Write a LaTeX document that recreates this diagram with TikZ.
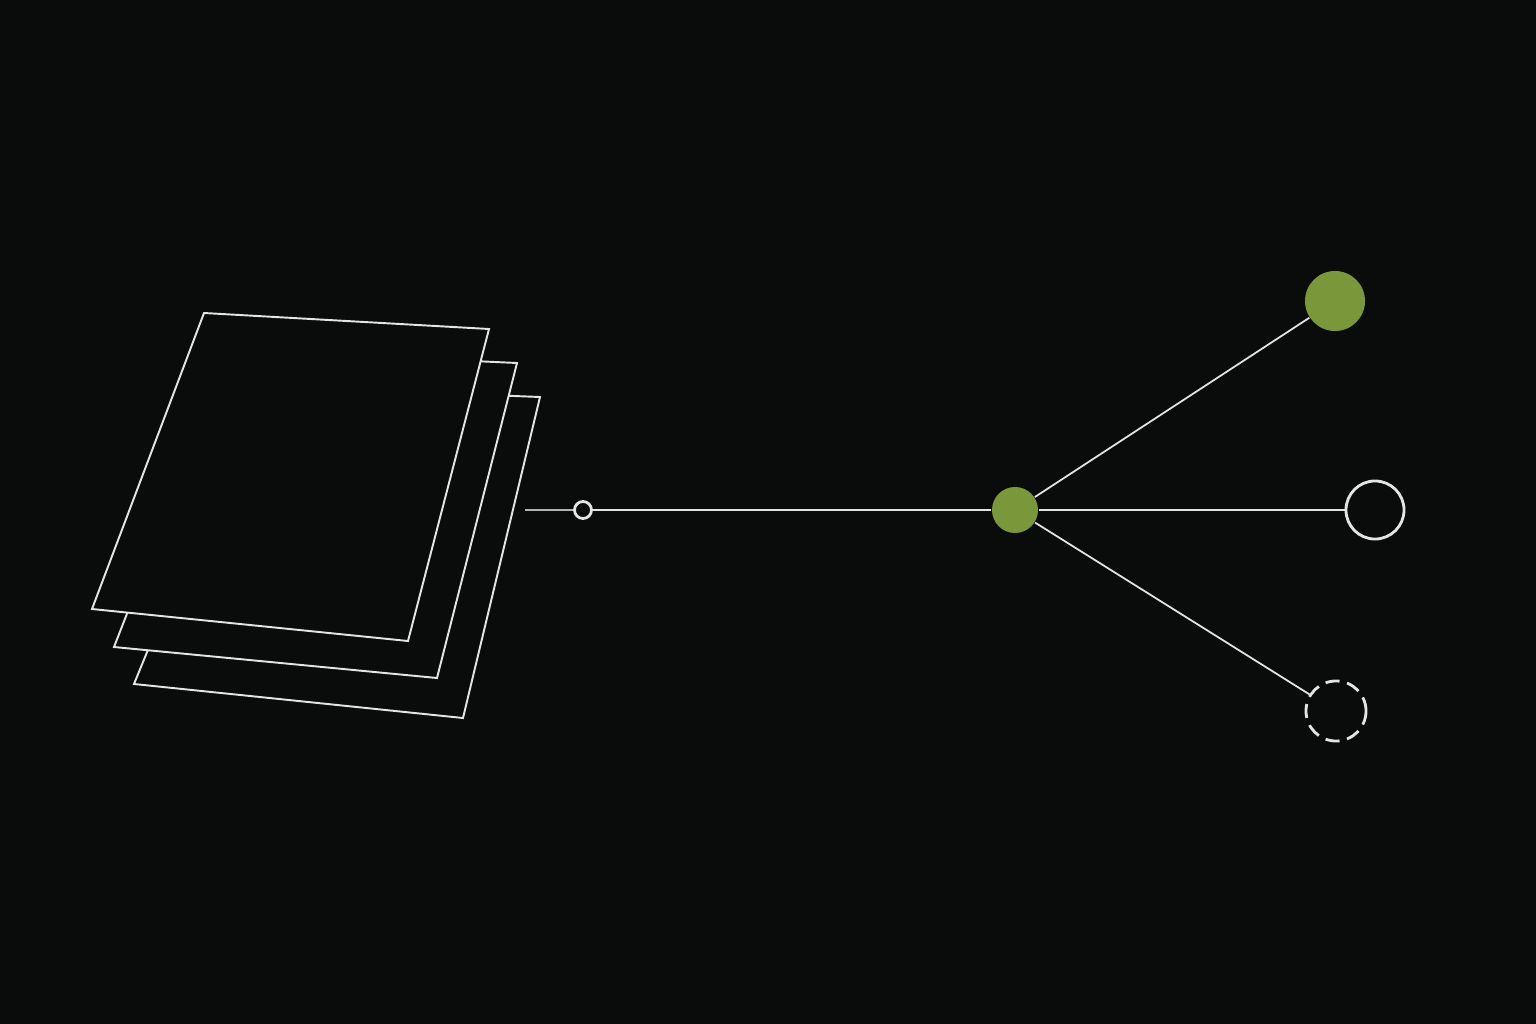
\documentclass[tikz,border=0pt]{standalone}
\definecolor{bg}{RGB}{10,11,11}
\definecolor{leafgreen}{RGB}{122,152,58}
\definecolor{wire}{RGB}{228,228,228}
\begin{document}
\begin{tikzpicture}[x=0.01cm,y=-0.01cm]
    \tikzstyle{page}=[draw=wire, line width=0.55pt, fill=bg]
    \tikzstyle{link}=[draw=wire, line width=0.5pt]
    \tikzstyle{dot}=[circle, inner sep=0pt, fill=leafgreen]
    \tikzstyle{ring}=[circle, inner sep=0pt, draw=wire, line width=0.8pt, fill=bg]
    \fill[bg] (0,0) rectangle (1536,1024);
    \useasboundingbox (0,0) rectangle (1536,1024);
    % stacked pages, back to front
    \draw[page] (256,386) -- (540,397) -- (463,718) -- (134,684) -- cycle;
    \draw[page] (230,350) -- (517,363) -- (437,678) -- (114,647) -- cycle;
    \draw[page] (204,313) -- (489,329) -- (408,641) -- (92,609) -- cycle;
    % nodes
    \coordinate (tail) at (525,510);
    \node[ring, minimum size=0.17cm] (src) at (583,510) {};
    \node[dot, minimum size=0.46cm] (hub) at (1015,510) {};
    \node[dot, minimum size=0.60cm] (up) at (1335,301) {};
    \node[ring, minimum size=0.58cm] (mid) at (1375,510) {};
    \node[ring, minimum size=0.60cm, dash pattern=on 4pt off 2.2pt] (low) at (1336,711) {};
    % connectors
    \draw[gray!60, line width=0.35pt] (tail) -- (src);
    \path[link] (src) -- (hub);
    \path[link] (hub) -- (up);
    \path[link] (hub) -- (mid);
    \path[link] (hub) -- (low);
\end{tikzpicture}
\end{document}
